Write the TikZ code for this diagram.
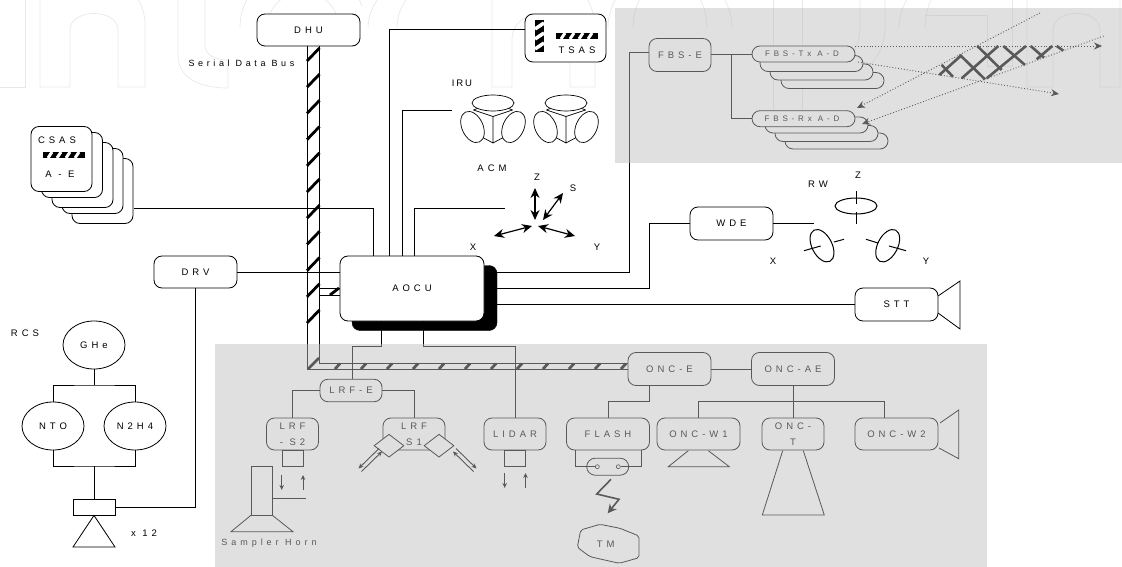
\documentclass[tikz,border=0pt]{standalone}
\usepackage{fontspec}
\setmainfont[LetterSpace=42]{Liberation Sans}
\usetikzlibrary{arrows.meta,calc,shapes.geometric}
\definecolor{panelshade}{RGB}{189,189,189}
\definecolor{markgray}{RGB}{232,232,232}
\tikzset{
  unit/.style={draw,fill=white,rounded corners=8pt,line width=0.8pt,inner sep=0pt,align=center,font=\fontsize{9.5}{11}\selectfont},
  card/.style={draw,fill=white,rounded corners=8pt,line width=0.8pt,inner sep=0pt},
  tank/.style={draw,ellipse,line width=0.8pt,inner sep=0pt,minimum width=62pt,minimum height=48pt,font=\fontsize{9.5}{11}\selectfont},
  caption/.style={inner sep=0pt,font=\fontsize{9.5}{11}\selectfont},
  wire/.style={line width=0.8pt},
  busline/.style={line width=0.8pt},
  busstripe/.style={line width=2.8pt},
  flowarrow/.style={line width=0.9pt,-{Stealth[length=5pt,width=4.5pt]}},
  acmarrow/.style={line width=1.2pt,{Stealth[length=10pt,width=9pt]}-{Stealth[length=10pt,width=9pt]}},
  beam/.style={dotted,line width=0.9pt,-{Stealth[length=8pt,width=7pt]}},
  beamhatch/.style={line width=2.6pt},
  watermark/.style={draw=markgray,line width=0.7pt},
  lobe/.style={draw,fill=white,ellipse,line width=0.7pt,inner sep=0pt,minimum width=21pt,minimum height=33pt},
  wheel/.style={draw,ellipse,line width=1pt,inner sep=0pt,minimum width=20pt,minimum height=35pt},
  gyropic/.pic={
    \draw[line width=0.7pt] (-19.5,7) -- (0,13.5) -- (19.5,7);
    \draw[line width=0.7pt] (-19.5,7) -- (-12,4) (19.5,7) -- (12,4);
    \draw[line width=0.7pt] (0,13.5) -- (0,40) (-13,33) -- (0,40) -- (13,33);
    \node[lobe,minimum width=42pt,minimum height=16pt] at (0,0) {};
    \node[lobe,rotate=25] at (-20.5,24) {};
    \node[lobe,rotate=-25] at (20.5,24) {};
  },
  hbarpic/.pic={
    \clip (-21,-3) rectangle (21,3);
    \fill (-21,-3) rectangle (21,3);
    \foreach \s in {-14,-5,4,13}
      \draw[white,line width=3pt] (\s-2,3) -- (\s+2,-3);
  },
  vbarpic/.pic={
    \clip (-4.5,-16) rectangle (4.5,16);
    \fill (-4.5,-16) rectangle (4.5,16);
    \foreach \s in {-10,0,10}
      \draw[white,line width=3.5pt] (-4.5,\s+3) -- (4.5,\s-3);
  }
}
\begin{document}
\begin{tikzpicture}[x=1pt,y=-1pt]
  \useasboundingbox (0,0) rectangle (1122,567);

  % Faint letter outlines behind the drawing
  \draw[watermark] (0,87) -- (25,87) -- (25,0);
  \draw[watermark] (40,0) -- (40,87) -- (70,87) -- (70,30) .. controls (70,8) and (118,8) .. (118,30) -- (118,87) -- (145,87) -- (145,25) .. controls (145,15) and (142,5) .. (138,0);
  \draw[watermark] (178,0) -- (178,55) .. controls (178,75) and (195,88) .. (228,88) -- (228,60) .. controls (215,60) and (205,55) .. (205,45) -- (205,0);
  \draw[watermark] (240,28) arc[start angle=180,end angle=340,radius=63];
  \draw[watermark] (267,28) arc[start angle=180,end angle=340,radius=36];
  \draw[watermark] (368,28) arc[start angle=180,end angle=290,x radius=80,y radius=60];
  \draw[watermark] (397,28) arc[start angle=180,end angle=290,x radius=52,y radius=50];
  \draw[watermark] (492,0) -- (492,87) -- (512,87) -- (512,40) .. controls (512,5) and (570,5) .. (570,40) -- (570,87) -- (595,87) -- (595,30) .. controls (595,18) and (592,8) .. (588,0);
  \draw[watermark] (608,28) arc[start angle=180,end angle=360,x radius=62,y radius=60];
  \draw[watermark] (633,28) arc[start angle=180,end angle=360,x radius=37,y radius=50];
  \draw[watermark] (773,0) -- (773,120) -- (802,120) -- (802,0);
  \draw[watermark] (801,78) .. controls (830,78) and (860,60) .. (860,28) -- (860,0);
  \draw[watermark] (802,88) .. controls (850,88) and (885,65) .. (885,28) -- (885,0);
  \draw[watermark] (899,28) arc[start angle=180,end angle=300,x radius=61,y radius=58];
  \draw[watermark] (925,28) arc[start angle=180,end angle=290,x radius=35,y radius=50];
  \draw[watermark] (925,15) -- (987,15) -- (987,66) -- (1012,66) -- (1012,0);
  \draw[watermark] (1027,0) -- (1027,87) -- (1053,87) -- (1053,30) .. controls (1053,8) and (1100,8) .. (1100,30) -- (1100,87) -- (1120,87) -- (1120,0);

  % Main units
  \node[unit,minimum width=103pt,minimum height=32pt] (dhu) at (308.5,30) {DHU};
  \node[unit,minimum width=81pt,minimum height=48pt] (tsas) at (565.5,38) {};
  \node[unit,minimum width=83pt,minimum height=32pt] (drv) at (195.5,272) {DRV};
  \node[unit,minimum width=83pt,minimum height=33pt] (wde) at (731.5,223.5) {WDE};
  \node[unit,minimum width=83pt,minimum height=33pt] (stt) at (896.5,304.5) {STT};
  \node[draw,fill,rounded corners=8pt,minimum width=145pt,minimum height=65pt,inner sep=0pt] (aocuback) at (424.5,298) {};
  \node[unit,minimum width=144pt,minimum height=65pt] (aocu) at (412,288.5) {AOCU};

  % Sensor head cards, back one first
  \foreach \n/\dx/\dy in {5/41/32,4/31/22,3/21/16,2/10.5/6,1/0/0}
    \node[card,minimum width=61pt,minimum height=65pt] (csas\n) at ({61.5+\dx},{159+\dy}) {};
  \node[caption] (csastext) at (57,140) {CSAS};
  \node[caption] (csasletters) at (60,174) {A - E};
  \pic at (64,155) {hbarpic};
  \node[caption] (tsastext) at (577,50) {TSAS};
  \pic at (577,36) {hbarpic};
  \pic at (539.5,36) {vbarpic};

  % Gyro and momentum labels
  \node[caption,font=\fontsize{9.5}{11}\selectfont\addfontfeature{LetterSpace=20}] (irutext) at (462,83) {IRU};
  \pic at (493,103) {gyropic};
  \pic at (566,103) {gyropic};
  \node[caption] (acmtext) at (492,168) {ACM};
  \node[caption] (acmz) at (537,177) {Z};
  \node[caption] (acms) at (573,188) {S};
  \node[caption] (acmx) at (473,247) {X};
  \node[caption] (acmy) at (597,247) {Y};
  \coordinate (acmzA) at (535,188);
  \coordinate (acmzB) at (535,220);
  \coordinate (acmsA) at (563,193);
  \coordinate (acmsB) at (543,220);
  \coordinate (acmxA) at (494,236);
  \coordinate (acmxB) at (532,226);
  \coordinate (acmyA) at (575,236);
  \coordinate (acmyB) at (538,226);
  \draw[acmarrow] (acmzA) -- (acmzB);
  \draw[acmarrow] (acmsA) -- (acmsB);
  \draw[acmarrow] (acmxA) -- (acmxB);
  \draw[acmarrow] (acmyA) -- (acmyB);

  % Wheels
  \node[caption] (rwtext) at (818,184) {RW};
  \node[caption] (rwz) at (858,175) {Z};
  \node[caption] (rwx) at (773,261) {X};
  \node[caption] (rwy) at (926,261) {Y};
  \node[wheel,minimum width=42pt,minimum height=16pt] (wheelz) at (856,206) {};
  \node[wheel,rotate=27] (wheelx) at (822,245.7) {};
  \node[wheel,rotate=-27] (wheely) at (887.7,245.7) {};
  \draw[line width=1pt] (856,191) -- (856,204) (856,212) -- (856,224);
  \draw[line width=1pt] (804,250.7) -- (820.7,246) (834,242) -- (844,239.3);
  \draw[line width=1pt] (866,239.3) -- (878,243) (889,246) -- (906,250.7);

  % Tracker cone
  \draw[wire] (938,296) -- (960,281) -- (960,329) -- (938,313);

  % Serial bus
  \node[caption,font=\fontsize{9}{11}\selectfont\addfontfeature{LetterSpace=40}] (bustext) at (241.5,63) {Serial Data Bus};
  \coordinate (busA) at (307,46);
  \coordinate (busB) at (319.5,46);
  \coordinate (busC) at (319.5,363.5);
  \coordinate (busD) at (307,369);
  \draw[busline] (busA) -- (busD) -- (628,369);
  \draw[busline] (busB) -- (busC) -- (628,363.5);
  \foreach \y in {61,87.2,...,345}
    \draw[busstripe] (307,\y) -- (319.5,\y-13);
  \draw[busstripe] (308,369) -- (319,358);
  \foreach \x in {335,361,...,625}
    \draw[busstripe] (\x,369) -- (\x+5,363.5);
  \draw[busline] (319.5,288) -- (340,288) (319.5,295) -- (340,295);
  \draw[busstripe] (330,295) -- (339,288);

  % Lines into the AOCU
  \coordinate (csasOut) at (134,208);
  \coordinate (tsasLeg) at (389,29);
  \coordinate (iruOut) at (452,110);
  \coordinate (acmOut) at (505,208);
  \draw[wire] (csasOut) -| (aocu.north -| 373,0);
  \draw[wire] (tsas.west |- tsasLeg) -- (tsasLeg) -- (aocu.north -| tsasLeg);
  \draw[wire] (iruOut) -| (aocu.north -| 402,0);
  \draw[wire] (acmOut) -| (aocu.north -| 414,0);
  \draw[wire] (drv.east) -- (aocu.west |- drv);

  % Lines out of the AOCU
  \draw[wire] (aocuback.east |- drv) -| (629,52) -- (649,52);
  \draw[wire] (aocuback.east |- 0,288) -| (649,223.5) -- (wde.west);
  \draw[wire] (wde.east) -- (814,223.5);
  \draw[wire] (aocuback.east |- stt) -- (stt.west);

  % Propulsion
  \node[caption] (rcstext) at (25,333) {RCS};
  \node[tank] (ghe) at (94,345) {GHe};
  \node[tank] (nto) at (53,426) {NTO};
  \node[tank] (nhh) at (135,426) {N2H4};
  \node[draw,line width=0.8pt,minimum width=42pt,minimum height=16pt,inner sep=0pt] (nozzle) at (94,507) {};
  \coordinate (nozzleL) at (73,547);
  \coordinate (nozzleR) at (115,547);
  \draw[wire] (nozzle.south) -- (nozzleL) -- (nozzleR) -- cycle;
  \node[caption] (thrusters) at (144,533) {x 12};
  \coordinate (tankTop) at (94,385);
  \coordinate (tankLow) at (94,466);
  \draw[wire] (ghe.south) -- (tankTop);
  \draw[wire] (nto.north) |- (tankTop) -| (nhh.north);
  \draw[wire] (nto.south) |- (tankLow) -| (nhh.south);
  \draw[wire] (tankLow) -- (nozzle.north);
  \draw[wire] (drv.south) |- (nozzle.east);

  % FBS panel
  \node[unit,minimum width=62pt,minimum height=33pt] (fbse) at (680,55) {FBS-E};
  \foreach \n/\xa/\ya in {4/832.5/80.5,3/821.5/72,2/811.5/63.5,1/803.5/54}
    \node[card,minimum width=103pt,minimum height=16pt] (fbstx\n) at (\xa,\ya) {};
  \foreach \n/\xa/\ya in {4/836.5/141,3/826.5/133.5,2/816.5/125,1/803.5/118.7}
    \node[card,minimum width=103pt,minimum height=16pt] (fbsrx\n) at (\xa,\ya) {};
  \node[caption,font=\fontsize{8}{8}\selectfont\addfontfeature{LetterSpace=48}] (fbstxtext) at (802,54) {FBS-Tx A-D};
  \node[caption,font=\fontsize{8}{8}\selectfont\addfontfeature{LetterSpace=48}] (fbsrxtext) at (802,118.7) {FBS-Rx A-D};
  \coordinate (fbsBranch) at (731.5,54);
  \draw[wire] (fbse.east |- fbstx1) -- (fbstx1.west);
  \draw[wire] (fbsBranch) |- (fbsrx1.west);

  % FBS beams
  \coordinate (txBeamA) at (1102,46);
  \coordinate (txBeamB) at (1059,94);
  \coordinate (rxBeamA) at (1040,13);
  \coordinate (rxBeamB) at (1103.7,36);
  \coordinate (rxTipA) at (857,108);
  \coordinate (rxTipB) at (862,124);
  \draw[beam] (855,46) -- (txBeamA);
  \draw[beam] (858,62) -- (txBeamB);
  \draw[beam] (rxBeamA) -- (rxTipA);
  \draw[beam] (rxBeamB) -- (rxTipB);
  \foreach \xa/\ya/\xb/\yb in {941.7/65/953/76.7,960/55/985/79.3,977.3/46/1001.7/70,1003.3/46/1025/65,1030.7/46/1044/57.7,1056.7/46/1063.3/50.7,939.3/75/961.7/55,961.7/78.3/998.3/46,986.7/78.3/1026/46,1036.7/59.3/1052.3/46}
    \draw[beamhatch] (\xa,\ya) -- (\xb,\yb);

  % Laser units
  \node[unit,minimum width=62pt,minimum height=22.5pt] (lrfe) at (351,390.5) {LRF-E};
  \node[unit,minimum width=52pt,minimum height=32pt] (lrfstwo) at (292.5,434) {LRF\\[5pt]- S2};
  \node[unit,minimum width=62pt,minimum height=32pt] (lrfsone) at (414,434) {LRF\\[5pt]S1};
  \node[unit,minimum width=62pt,minimum height=32pt] (lidar) at (515,434) {LIDAR};
  \coordinate (lrfLegA) at (381,346.5);
  \coordinate (lrfLegB) at (352.5,346.5);
  \coordinate (lidarLegA) at (423,346.5);
  \draw[wire] (aocu.south -| lrfLegA) -- (lrfLegA) -- (lrfLegB) -- (lrfe.north -| lrfLegB);
  \draw[wire] (aocu.south -| lidarLegA) -- (lidarLegA) -| (lidar.north);
  \draw[wire] (lrfe.west) -| (lrfstwo.north);
  \draw[wire] (lrfe.east) -| (lrfsone.north);
  \node[draw,line width=0.8pt,minimum width=21.5pt,minimum height=16.5pt,inner sep=0pt] (lrfhead) at (292.7,458.5) {};
  \node[draw,line width=0.8pt,minimum width=21pt,minimum height=16.5pt,inner sep=0pt] (lidarhead) at (515,458.5) {};
  \foreach \x/\ya/\yb in {281.7/475/490,303/490/475,504.7/473/488,525.5/488/473}
    \draw[flowarrow] (\x,\ya) -- (\x,\yb);

  % Sampler horn
  \draw[wire] (251.3,466.3) rectangle (272,515);
  \draw[wire] (251.3,515) -- (231,531.7) -- (293,531.7) -- (272,515);
  \draw[wire] (272,498.7) -- (305.7,498.7);
  \node[caption,font=\fontsize{9}{11}\selectfont\addfontfeature{LetterSpace=44}] (samplertext) at (269,543.3) {Sampler Horn};

  % Laser mirrors
  \node[draw,fill=white,diamond,line width=0.8pt,minimum width=30pt,minimum height=23pt,inner sep=0pt] (mirrorL) at (389,445.7) {};
  \node[draw,fill=white,diamond,line width=0.8pt,minimum width=30pt,minimum height=23pt,inner sep=0pt] (mirrorR) at (439,445.7) {};
  \coordinate (mirrorLA) at (360,470);
  \coordinate (mirrorLB) at (380.5,450);
  \coordinate (mirrorRA) at (475,470);
  \coordinate (mirrorRB) at (454.5,450);
  \draw[flowarrow] (mirrorLB) ++(-1.5,-1.5) -- ($(mirrorLA)+(-1.5,-1.5)$);
  \draw[flowarrow] (mirrorLA) ++(1.5,1.5) -- ($(mirrorLB)+(1.5,1.5)$);
  \draw[flowarrow] (mirrorRB) ++(1.5,-1.5) -- ($(mirrorRA)+(1.5,-1.5)$);
  \draw[flowarrow] (mirrorRA) ++(-1.5,1.5) -- ($(mirrorRB)+(-1.5,1.5)$);

  % Camera units
  \node[unit,minimum width=83pt,minimum height=33pt] (once) at (669.5,369) {ONC-E};
  \node[unit,minimum width=83pt,minimum height=33pt] (oncae) at (793,369) {ONC-AE};
  \node[unit,minimum width=83pt,minimum height=32pt] (flash) at (608,434) {FLASH};
  \node[unit,minimum width=83pt,minimum height=32pt] (oncwone) at (698.5,434) {ONC-W1};
  \node[unit,minimum width=62pt,minimum height=32pt] (onct) at (793,434) {ONC-\\[5pt]T};
  \node[unit,minimum width=83pt,minimum height=32pt] (oncwtwo) at (896.5,434) {ONC-W2};
  \coordinate (onceDrop) at (649,401.5);
  \coordinate (oncaeDrop) at (793,401.5);
  \draw[wire] (once.east) -- (oncae.west);
  \draw[wire] (once.south -| onceDrop) -- (onceDrop) -| (flash.north);
  \draw[wire] (oncae.south) -- (onct.north);
  \draw[wire] (oncwone.north) |- (oncaeDrop) -| (oncwtwo.north -| 884,0);
  \draw[wire] (688.3,450.7) -- (668.3,466.7) -- (729.3,466.7) -- (708.3,450.7);
  \draw[wire] (782.7,450.7) -- (762.3,515) -- (824.3,515) -- (803.3,450.7);
  \draw[wire] (940,423) -- (958.7,410) -- (958.7,458.7) -- (939,448);

  % Flash lamp and target
  \node[draw,fill=white,rounded corners=8.5pt,line width=0.8pt,minimum width=42pt,minimum height=17pt,inner sep=0pt] (lamp) at (607.7,466.7) {};
  \node[draw,circle,line width=0.6pt,minimum size=4pt,inner sep=0pt] (lampL) at (597.3,466.7) {};
  \node[draw,circle,line width=0.6pt,minimum size=4pt,inner sep=0pt] (lampR) at (618.3,466.7) {};
  \draw[wire] (575,450) |- (lampL.west);
  \draw[wire] (641,450) |- (lampR.east);
  \draw[line width=1.6pt,-{Stealth[length=9pt,width=9pt]}] (611,479.3) -- (596.7,494) -- (619,499.3) -- (607.7,513.3);
  \draw[wire,rounded corners=2pt] (580.7,530) -- (600,524.3) -- (620,528.3) -- (639,536) -- (639,557.7) -- (619.3,563.3) -- (590,556.7) -- (577.3,547.3) -- cycle;
  \node[caption] (tmtext) at (605.7,544) {TM};

  % Shaded panels laid over the finished drawing
  \fill[panelshade,opacity=0.475] (615,8) rectangle (1122,163);
  \fill[panelshade,opacity=0.475] (215,344) rectangle (987,567);
\end{tikzpicture}
\end{document}
